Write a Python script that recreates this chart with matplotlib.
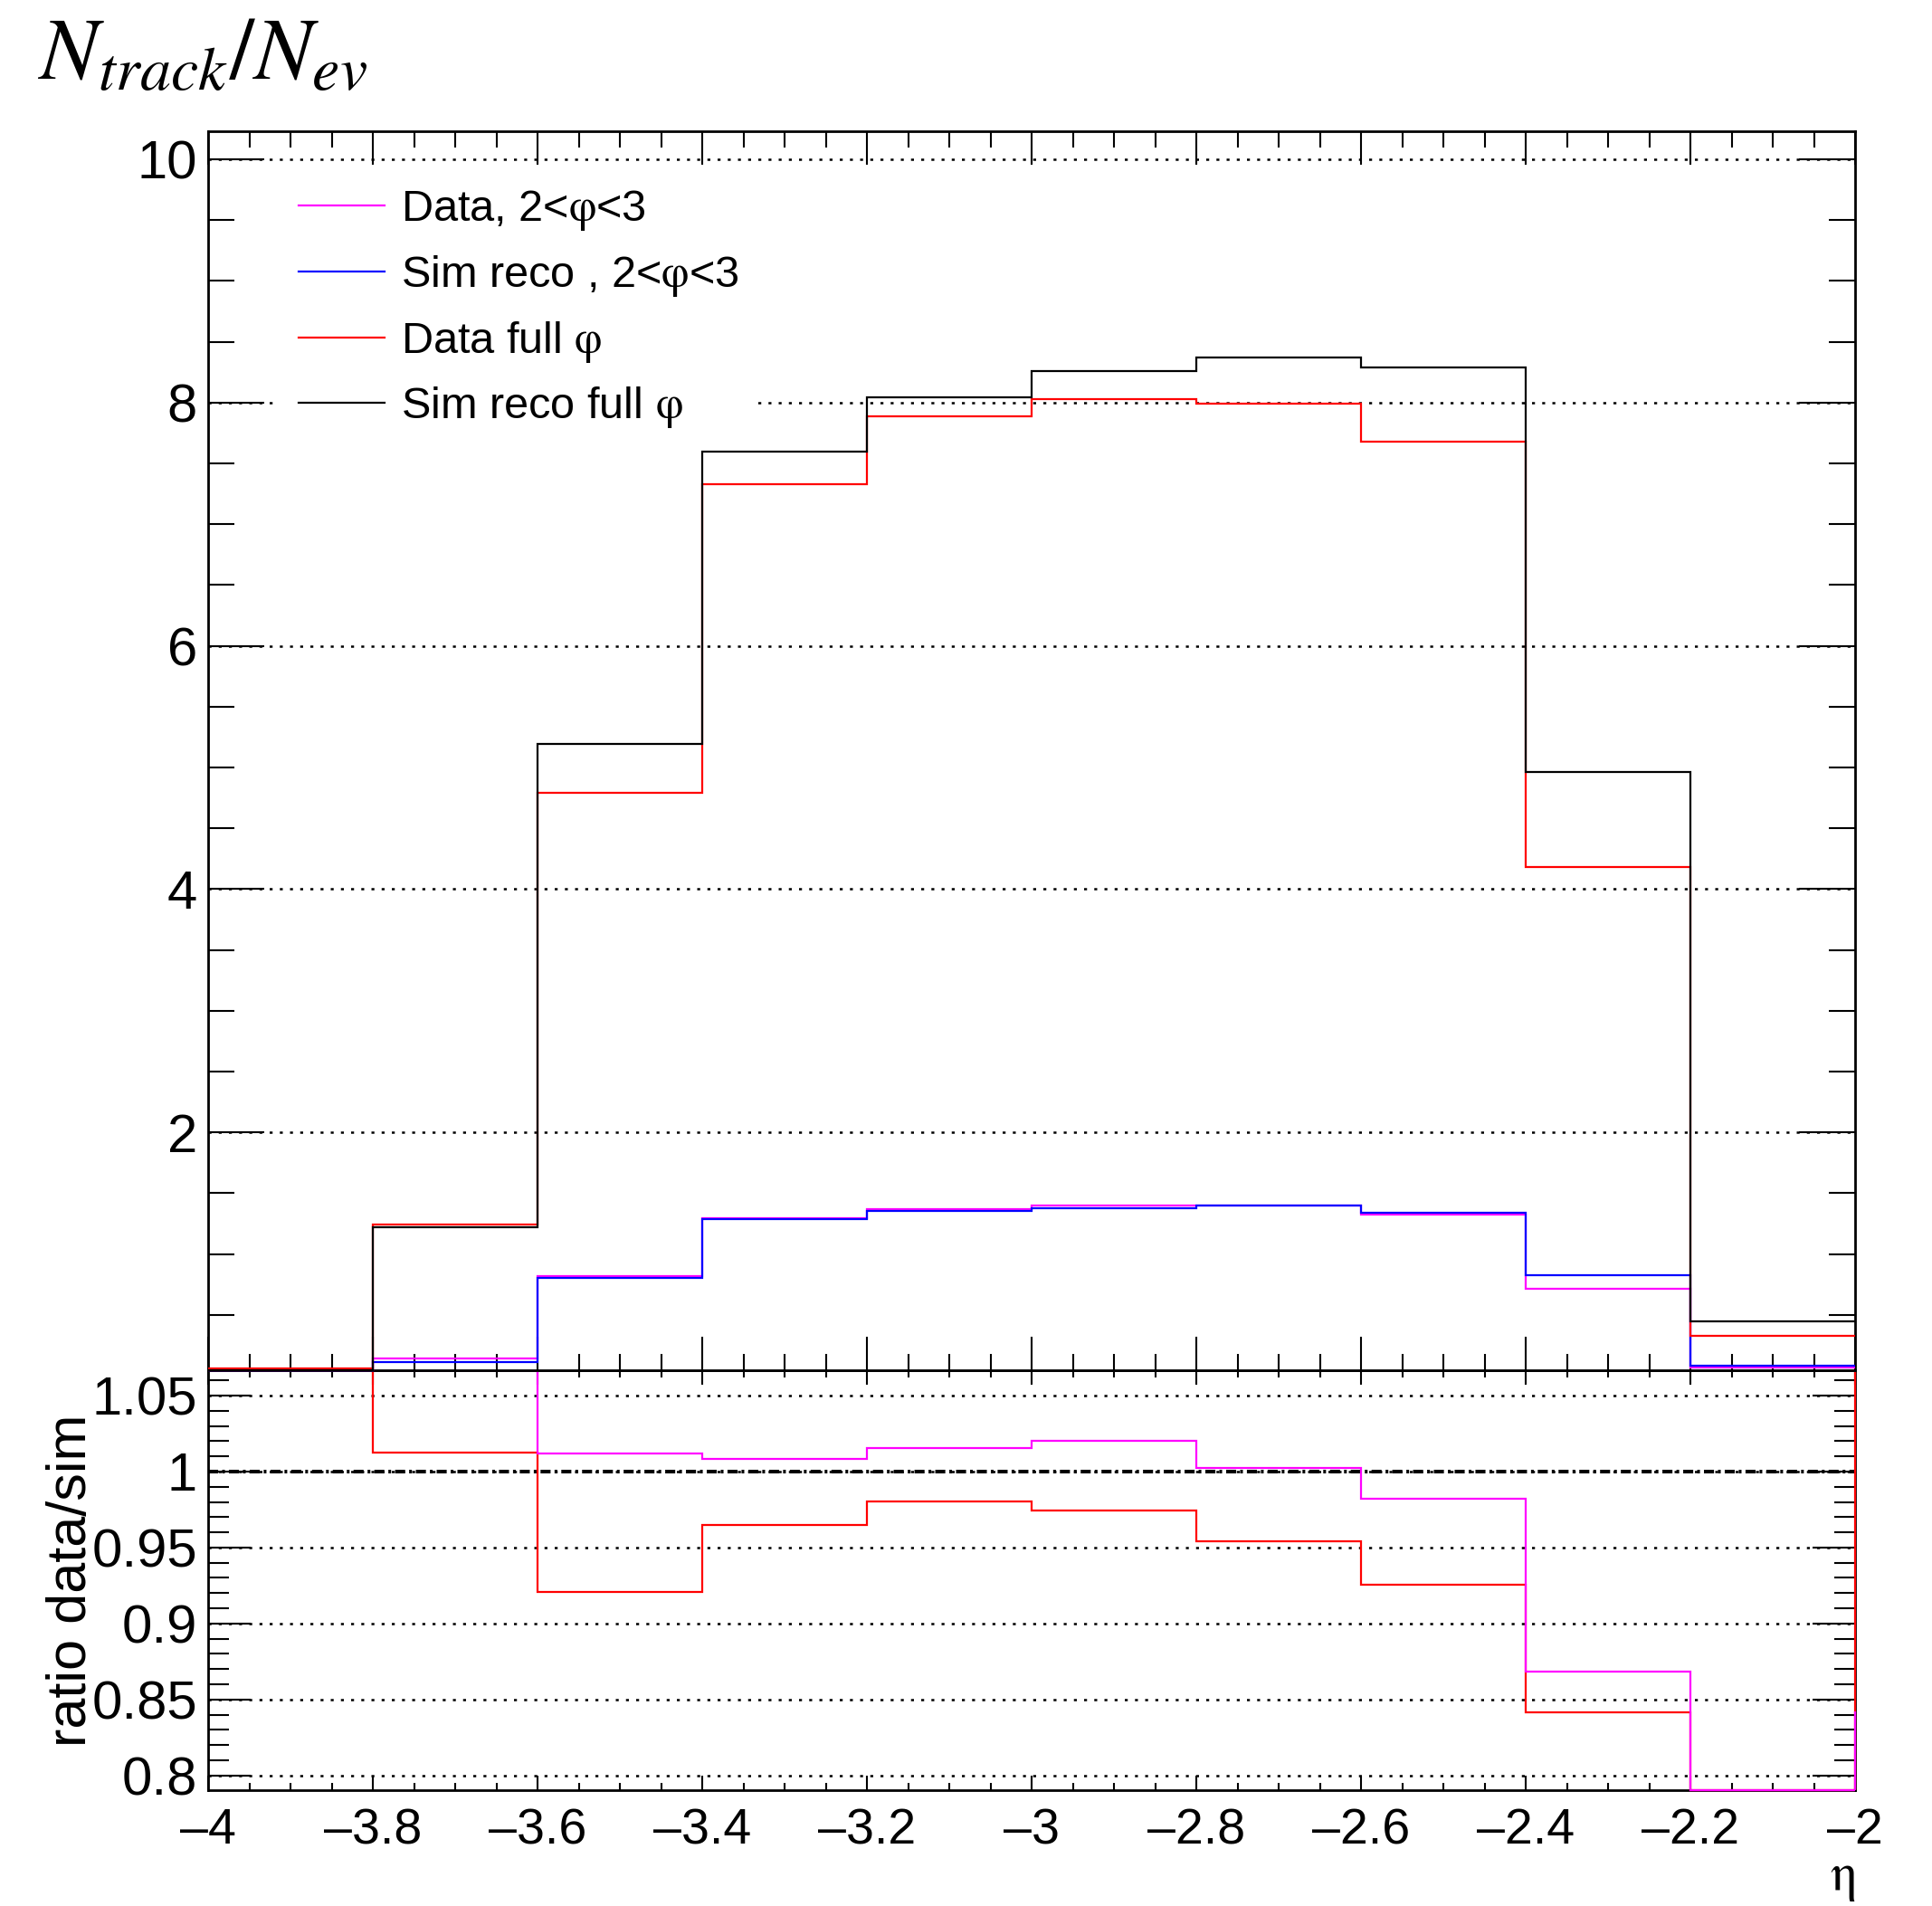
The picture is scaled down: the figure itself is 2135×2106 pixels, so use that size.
import numpy as np
import matplotlib
matplotlib.use("Agg")
import matplotlib.pyplot as plt
from matplotlib.ticker import MultipleLocator, FuncFormatter

plt.rcParams['font.family'] = ['Liberation Sans', 'DejaVu Sans']
plt.rcParams['mathtext.fontset'] = 'stix'

# bins en eta
eta_edges = [-4.0, -3.8, -3.6, -3.4, -3.2, -3.0, -2.8, -2.6, -2.4, -2.2, -2.0]

# N_track / N_ev par bin
data_phi = [0.0, 0.145, 0.817, 1.298, 1.372, 1.400, 1.397, 1.323, 0.717, 0.065]
sim_phi = [0.0, 0.114, 0.802, 1.286, 1.353, 1.375, 1.397, 1.340, 0.827, 0.085]
data_full = [0.06, 1.24, 4.79, 7.33, 7.89, 8.03, 7.99, 7.68, 4.18, 0.325]
sim_full = [0.04, 1.22, 5.19, 7.60, 8.04, 8.26, 8.37, 8.29, 4.96, 0.449]

# ratio data/sim (hors echelle -> valeur au dela du cadre)
ratio_full = [1.20, 1.0126, 0.9207, 0.9647, 0.9801, 0.9746, 0.9541, 0.9257, 0.8414, 0.72]
ratio_phi = [1.20, 1.20, 1.0119, 1.0085, 1.0156, 1.0204, 1.0021, 0.9821, 0.8682, 0.76]

labels = ['Data, 2<$\\mathrm{\\varphi}$<3',
          'Sim reco , 2<$\\mathrm{\\varphi}$<3',
          'Data full $\\mathrm{\\varphi}$',
          'Sim reco full $\\mathrm{\\varphi}$']

MAGENTA = '#ff00ff'
BLUE = '#0000ff'
RED = '#ff0000'
BLACK = '#000000'

W, H = 2135, 2106
main_lim = (0.045, 10.23)
ratio_lim = (0.7903, 1.0667)


def box(l, t, r, b):
    # pixels -> fraction de figure
    return [l / W, 1 - b / H, (r - l) / W, (b - t) / H]


def hist(a, vals, color, lim):
    # comme ROOT : les valeurs hors cadre sont posees sur le cadre
    v = np.clip(vals, lim[0], lim[1])
    return a.stairs(v, eta_edges, baseline=None, color=color, lw=1.6,
                    clip_on=False, zorder=3)


def fmt(x, pos):
    return ('%g' % round(x, 4)).replace('-', '\u2013')


fig = plt.figure(figsize=(W / 100, H / 100), dpi=100)
ax = fig.add_axes(box(230, 145, 2050, 1514))
rax = fig.add_axes(box(230, 1514, 2050, 1978))
ax.set_zorder(2)
rax.set_zorder(1)

grid_style = dict(color='k', lw=1.8, linestyle=(0, (1.3, 3.2)))

############################## HAUT ##############################
h1 = hist(ax, data_phi, MAGENTA, main_lim)
h2 = hist(ax, sim_phi, BLUE, main_lim)
h3 = hist(ax, data_full, RED, main_lim)
h4 = hist(ax, sim_full, BLACK, main_lim)

ax.set_xlim(eta_edges[0], eta_edges[-1])
ax.set_ylim(*main_lim)
ax.xaxis.set_major_locator(MultipleLocator(0.2))
ax.xaxis.set_minor_locator(MultipleLocator(0.05))
ax.yaxis.set_major_locator(MultipleLocator(2))
ax.yaxis.set_minor_locator(MultipleLocator(0.5))
ax.yaxis.set_major_formatter(FuncFormatter(fmt))
ax.yaxis.grid(True, **grid_style)
ax.tick_params(axis='x', which='major', direction='in', length=26.6, width=1.5,
               top=True, bottom=True, labelbottom=False)
ax.tick_params(axis='x', which='minor', direction='in', length=13, width=1.5,
               top=True, bottom=True)
ax.tick_params(axis='y', which='major', direction='in', length=44.6, width=1.5,
               left=True, right=True, labelsize=43, pad=8.6)
ax.tick_params(axis='y', which='minor', direction='in', length=21, width=1.5,
               left=True, right=True)
for s in ax.spines.values():
    s.set_linewidth(2)

leg = ax.legend([h1, h2, h3, h4], labels, loc='upper left',
                bbox_to_anchor=(308 / W, 1 - 186 / H), bbox_transform=fig.transFigure,
                fontsize=35, frameon=True, fancybox=False, framealpha=1,
                facecolor='white', edgecolor='none', handlelength=1.95,
                handletextpad=0.38, labelspacing=0.47, borderpad=0.45, borderaxespad=0)

############################## RATIO ##############################
hist(rax, ratio_full, RED, ratio_lim)
hist(rax, ratio_phi, MAGENTA, ratio_lim)
# bord droit du ratio
rax.vlines(eta_edges[-1], ratio_lim[0], ratio_lim[1], colors=RED, lw=1.6,
           clip_on=False, zorder=3)
rax.vlines(eta_edges[-1], ratio_lim[0], 0.842, colors=MAGENTA, lw=1.6,
           clip_on=False, zorder=3)
rax.axhline(1.0, color='k', lw=2.9, linestyle=(0, (2.75, 1.1, 0.75, 1.1)), zorder=2)

rax.set_xlim(eta_edges[0], eta_edges[-1])
rax.set_ylim(*ratio_lim)
rax.xaxis.set_major_locator(MultipleLocator(0.2))
rax.xaxis.set_minor_locator(MultipleLocator(0.05))
rax.xaxis.set_major_formatter(FuncFormatter(fmt))
rax.yaxis.set_major_locator(MultipleLocator(0.05))
rax.yaxis.set_minor_locator(MultipleLocator(0.01))
rax.yaxis.set_major_formatter(FuncFormatter(fmt))
rax.yaxis.grid(True, **grid_style)
rax.tick_params(axis='x', which='major', direction='in', length=11.5, width=1.5,
                top=True, bottom=True, labelsize=40, pad=14)
rax.tick_params(axis='x', which='minor', direction='in', length=5.8, width=1.5,
                top=True, bottom=True)
rax.tick_params(axis='y', which='major', direction='in', length=34, width=1.5,
                left=True, right=True, labelsize=43, pad=8.6)
rax.tick_params(axis='y', which='minor', direction='in', length=16.6, width=1.5,
                left=True, right=True)
for s in rax.spines.values():
    s.set_linewidth(2)

rax.set_ylabel('ratio data/sim', fontsize=44)
rax.yaxis.set_label_coords((108 - 230) / 1820, 0.5)

# titres
fig.text(42 / W, 1 - 87 / H, r'$N_{track}/N_{ev}$', fontsize=70, ha='left', va='baseline')
fig.text(2050 / W, 1 - 2076 / H, r'$\mathrm{\eta}$', fontsize=42, ha='right', va='center')

fig.savefig('out.png', dpi=100)
